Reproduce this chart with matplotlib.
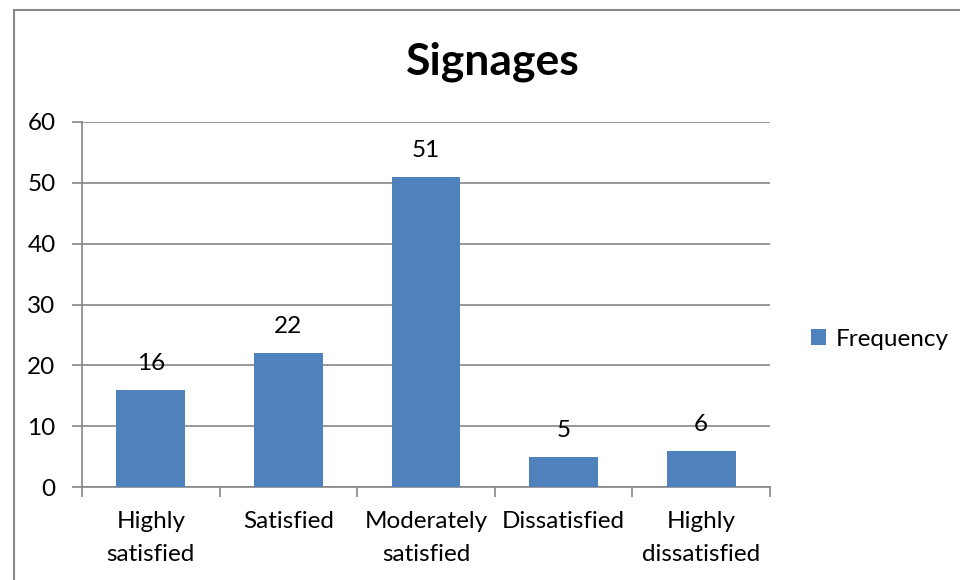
import matplotlib
matplotlib.use("Agg")
import matplotlib.pyplot as plt
from matplotlib.patches import Rectangle
import numpy as np

categories = ["Highly\nsatisfied", "Satisfied", "Moderately\nsatisfied", "Dissatisfied", "Highly\ndissatisfied"]
frequency = [16, 22, 51, 5, 6]
y_ticks = [0, 10, 20, 30, 40, 50, 60]
series_name = "Frequency"
title = "Signages"

plt.rcParams["font.family"] = ["Lato", "DejaVu Sans"]

W, H = 960, 580
fig = plt.figure(figsize=(W / 100, H / 100), dpi=100)
fig.patch.set_facecolor("white")

# outer chart-area border
fig.patches.append(Rectangle((14 / W, 0 - 0.01), 1.02, (H - 10) / H + 0.01,
                             transform=fig.transFigure, fill=False,
                             edgecolor="#888888", linewidth=1.5))

ax = fig.add_axes([82 / W, 1 - 487 / H, (770 - 82) / W, (487 - 122) / H])
grid_c = "#868686"
bar_c = "#4F81BD"

x = np.arange(len(categories))
ax.bar(x, frequency, width=0.5, color=bar_c, zorder=3, label=series_name)

fs = 17.5
for xi, v in zip(x, frequency):
    ax.annotate(str(v), (xi, v), xytext=(0, 19), textcoords="offset points",
                ha="center", va="center", fontsize=fs, color="black")

ax.set_xlim(-0.5, len(categories) - 0.5)
ax.set_ylim(0, 60)
ax.set_yticks(y_ticks)
ax.set_yticklabels([str(t) for t in y_ticks], fontsize=fs)
ax.yaxis.grid(True, color=grid_c, linewidth=1.2, zorder=0)
ax.set_axisbelow(True)

ax.set_xticks(x)
ax.set_xticklabels(categories, fontsize=fs, linespacing=1.7)
ax.set_xticks(np.arange(-0.5, len(categories)), minor=True)
ax.tick_params(axis="x", which="major", length=0, pad=17)
ax.tick_params(axis="x", which="minor", length=7, color=grid_c, width=1.2)
ax.tick_params(axis="y", length=7, color=grid_c, width=1.2, pad=12)

for s in ["top", "right"]:
    ax.spines[s].set_visible(False)
for s in ["left", "bottom"]:
    ax.spines[s].set_color(grid_c)
    ax.spines[s].set_linewidth(1.2)

fig.text(493 / W, 1 - 62 / H, title, ha="center", va="center",
         fontsize=32, fontweight="bold")

leg = fig.legend(loc="center left", bbox_to_anchor=(799 / W, 1 - 339 / H),
                 frameon=False, fontsize=fs, handlelength=0.62, handleheight=0.62,
                 handletextpad=0.4, borderpad=0)

fig.savefig("out.png", dpi=100)
